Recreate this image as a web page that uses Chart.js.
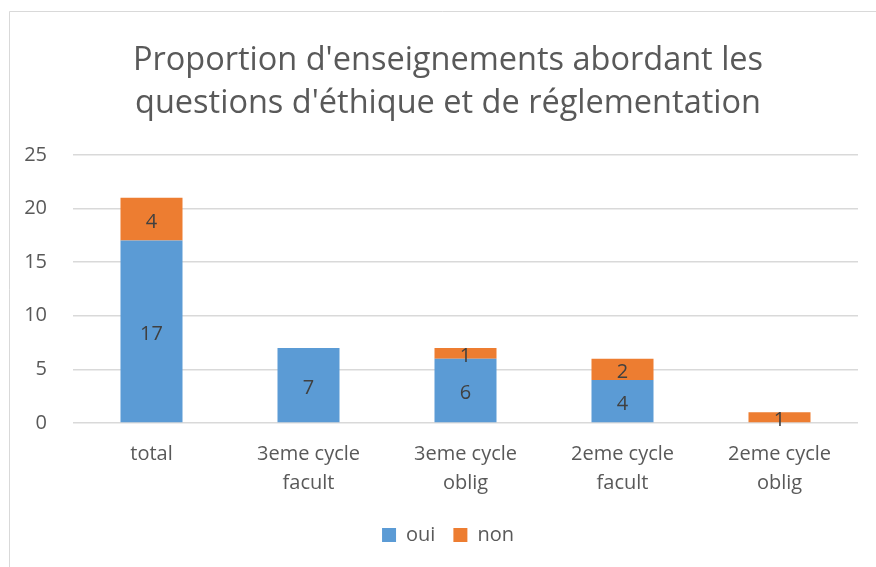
<!DOCTYPE html>
<html>
<head>
<meta charset="utf-8">
<script src="https://cdn.jsdelivr.net/npm/chart.js@4"></script>
<style>
  html, body { margin: 0; padding: 0; background: #fff; }
  #wrap { position: relative; width: 876px; height: 567px; }
</style>
</head>
<body>
<div id="wrap"><canvas id="chart" width="876" height="567"></canvas></div>
<script>
const categories = [['total'], ['3eme cycle', 'facult'], ['3eme cycle', 'oblig'], ['2eme cycle', 'facult'], ['2eme cycle', 'oblig']];
const ouiValues = [17, 7, 6, 4, 0];
const nonValues = [4, 0, 1, 2, 1];
const yTicks = [0, 5, 10, 15, 20, 25];

const FONT = '"Open Sans", sans-serif';
const GREY = '#595959';

// cadre gris du graphique (bords gauche et haut visibles)
const framePlugin = {
    id: 'frame',
    beforeDraw(chart) {
        const c = chart.ctx;
        c.save();
        c.fillStyle = '#fff';
        c.fillRect(0, 0, chart.width, chart.height);
        c.strokeStyle = '#d9d9d9';
        c.lineWidth = 1;
        c.beginPath();
        c.moveTo(9.5, chart.height);
        c.lineTo(9.5, 11.5);
        c.lineTo(chart.width, 11.5);
        c.stroke();
        c.restore();
    }
};

// étiquettes de valeurs au centre de chaque segment
const valueLabels = {
    id: 'valueLabels',
    afterDatasetsDraw(chart) {
        const c = chart.ctx;
        c.save();
        c.font = '20px ' + FONT;
        c.fillStyle = '#404040';
        c.textAlign = 'center';
        c.textBaseline = 'middle';
        chart.data.datasets.forEach((ds, i) => {
            chart.getDatasetMeta(i).data.forEach((bar, j) => {
                const v = ds.data[j];
                if (!v) return;
                c.fillText(String(v), bar.x, (bar.y + bar.base) / 2 + 3);
            });
        });
        c.restore();
    }
};

new Chart(document.getElementById('chart'), {
    type: 'bar',
    data: {
        labels: categories,
        datasets: [
            {label: 'oui', data: ouiValues, backgroundColor: '#5b9bd5'},
            {label: 'non', data: nonValues, backgroundColor: '#ed7d31'}
        ]
    },
    options: {
        responsive: false,
        animation: false,
        layout: {padding: {left: 20, right: 0, top: 39, bottom: 12}},
        datasets: {bar: {categoryPercentage: 1, barPercentage: 0.395}},
        scales: {
            x: {
                stacked: true,
                grid: {display: false},
                border: {display: false},
                ticks: {color: GREY, font: {family: FONT, size: 20, lineHeight: 1.45}, padding: 9, maxRotation: 0}
            },
            y: {
                stacked: true,
                min: 0,
                max: 25,
                afterBuildTicks(axis) { axis.ticks = yTicks.map(v => ({value: v})); },
                afterFit(axis) { axis.width = 53; },
                grid: {color: '#d9d9d9', lineWidth: 1.5, drawTicks: false},
                border: {display: false},
                ticks: {color: GREY, font: {family: FONT, size: 20}, padding: 26}
            },
            // axe vide à droite, juste pour la marge
            yRight: {
                position: 'right',
                afterFit(axis) { axis.width = 18; },
                grid: {display: false},
                border: {display: false},
                ticks: {display: false}
            }
        },
        plugins: {
            title: {
                display: true,
                text: ["Proportion d'enseignements abordant les", "questions d'éthique et de réglementation"],
                color: GREY,
                font: {family: FONT, size: 32.5, weight: 'normal', lineHeight: 1.32},
                padding: {top: 0, bottom: 30}
            },
            legend: {
                position: 'bottom',
                labels: {color: GREY, font: {family: FONT, size: 20}, boxWidth: 14, boxHeight: 14, padding: 18}
            },
            tooltip: {enabled: false}
        }
    },
    plugins: [framePlugin, valueLabels]
});
</script>
</body>
</html>
